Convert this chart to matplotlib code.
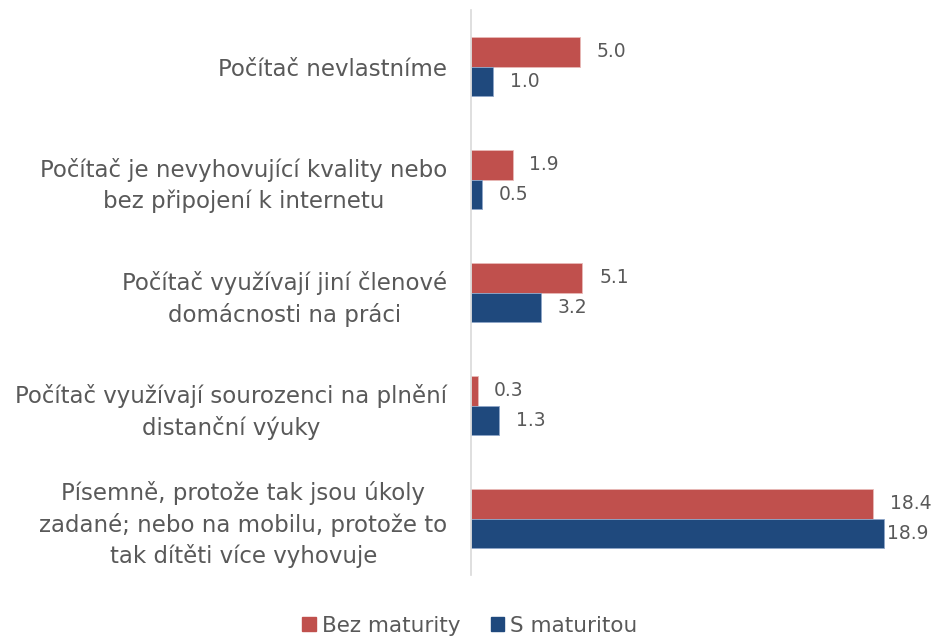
import numpy as np
import matplotlib.pyplot as plt
from matplotlib.patches import Patch

categories = [
    "Počítač nevlastníme",
    "Počítač je nevyhovující kvality nebo\nbez připojení k internetu",
    "Počítač využívají jiní členové\ndomácnosti na práci",
    "Počítač využívají sourozenci na plnění\ndistanční výuky",
    "Písemně, protože tak jsou úkoly\nzadané; nebo na mobilu, protože to\ntak dítěti více vyhovuje",
]
bez_maturity = [5.0, 1.9, 5.1, 0.3, 18.4]
s_maturitou = [1.0, 0.5, 3.2, 1.3, 18.9]

RED = "#C0504D"
BLUE = "#1F497D"
GREY = "#595959"

plt.rcParams['font.family'] = ['DejaVu Sans']

fig = plt.figure(figsize=(9.33, 6.38), dpi=100)
ax = fig.add_axes([471 / 933, 1 - 575 / 638, (933 - 471) / 933, 565 / 638])

y = np.arange(len(categories))
h = 0.26
ax.barh(y - h / 2, bez_maturity, height=h, color=RED, edgecolor="#E8B9B8", linewidth=0.6)
ax.barh(y + h / 2, s_maturitou, height=h, color=BLUE, edgecolor="#8EA6C8", linewidth=0.6)

xmax = (933 - 471) / 21.85


def label(v, yy):
    # labels near the right edge are pulled in, like Excel does
    off = 12 if v < 18.6 else 2.5
    ax.annotate(f"{v:.1f}", (v, yy), xytext=(off, 0), textcoords="offset points",
                va="center", ha="left", fontsize=13.5, color=GREY)


for yi, v in zip(y, bez_maturity):
    label(v, yi - h / 2)
for yi, v in zip(y, s_maturitou):
    label(v, yi + h / 2)

ax.set_ylim(len(categories) - 0.5, -0.5)
ax.set_xlim(0, xmax)
ax.set_yticks(y)
ax.set_yticklabels(categories, fontsize=16.5, color=GREY, linespacing=1.4)
for lbl in ax.get_yticklabels():
    lbl.set_multialignment("center")
ax.tick_params(axis="y", length=0, pad=17)
ax.tick_params(axis="x", bottom=False, labelbottom=False)
for s in ["top", "right", "bottom"]:
    ax.spines[s].set_visible(False)
ax.spines["left"].set_color("#D9D9D9")
ax.spines["left"].set_linewidth(1.2)

handles = [Patch(color=RED, label="Bez maturity"), Patch(color=BLUE, label="S maturitou")]
fig.legend(handles=handles, loc="center", bbox_to_anchor=(470 / 933, 1 - 626 / 638), ncol=2,
           frameon=False, fontsize=15.5, labelcolor=GREY, handlelength=0.62, handleheight=0.62,
           handletextpad=0.3, columnspacing=1.4)

fig.savefig("out.png", dpi=100)
